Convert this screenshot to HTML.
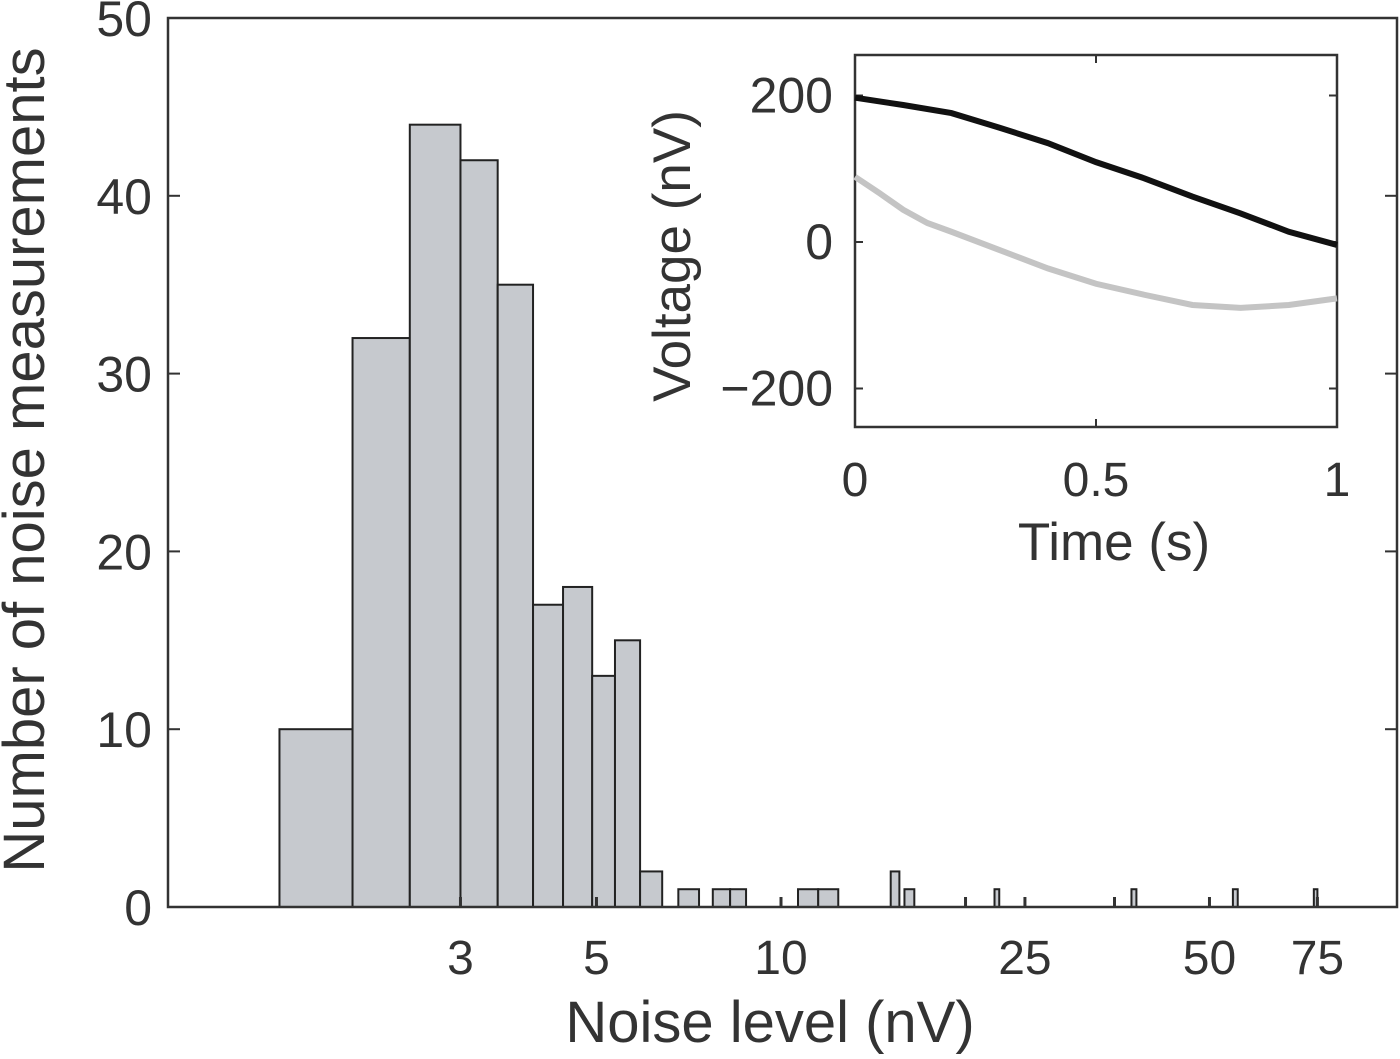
<!DOCTYPE html>
<html><head><meta charset="utf-8"><style>
html,body{margin:0;padding:0;background:#fff;}
svg text{font-family:"Liberation Sans",sans-serif;fill:#333;}
</style></head><body>
<svg id="chart" width="1400" height="1054" viewBox="0 0 1400 1054" xmlns="http://www.w3.org/2000/svg"></svg>
<script>
// Histogram data (bin edges in nV, counts)
const binLeft  = [1.52,2.0,2.48,3.0,3.45,3.94,4.41,4.92,5.36,5.89,6.8,7.74,8.26,10.66,11.5,15.1,15.9,22.3,37.3,54.6,74];
const binRight = [2.0,2.48,3.0,3.45,3.94,4.41,4.92,5.36,5.89,6.4,7.35,8.26,8.77,11.5,12.4,15.6,16.5,22.7,38,55.6,75];
const counts   = [10,32,44,42,35,17,18,13,15,2,1,1,1,1,1,2,1,1,1,1,1];
const xTicks = [3,5,10,25,50,75];
const xMinor = [20,35];
const yTicks = [0,10,20,30,40,50];
// Inset data
const tBlack = [0,0.1,0.2,0.3,0.4,0.5,0.6,0.7,0.8,0.9,1.0];
const vBlack = [197,187,176,156,135,109,87,62,39,14,-4];
const tGray  = [0,0.05,0.1,0.15,0.2,0.3,0.4,0.5,0.6,0.7,0.8,0.9,1.0];
const vGray  = [89,67,44,26,14,-11,-36,-57,-72,-86,-90,-86,-77];
const insetYTicks = [200,0,-200];
const insetYLabels = ["200","0","\u2212200"];
const insetXTicks = [0,0.5,1];
const insetXLabels = ["0","0.5","1"];

const NS="http://www.w3.org/2000/svg";
const svg=document.getElementById('chart');
function mk(tag,attrs,parent){const e=document.createElementNS(NS,tag);for(const k in attrs)e.setAttribute(k,attrs[k]);(parent||svg).appendChild(e);return e;}

const L=168,R=1397,T=18,B=907;
const xs=v=>781+(Math.log10(v)-1)*613;
const ys=c=>B-c*(B-T)/50;

binLeft.forEach((l,i)=>{
  const r=mk('rect',{x:xs(l),y:ys(counts[i]),width:xs(binRight[i])-xs(l),height:B-ys(counts[i]),fill:'#c6c9ce',stroke:'#222','stroke-width':2});
  
  
});
const fr=mk('rect',{x:L,y:T,width:R-L,height:B-T,fill:'none',stroke:'#333','stroke-width':2.5});


yTicks.forEach(v=>{
  mk('line',{x1:L,x2:L+12,y1:ys(v),y2:ys(v),stroke:'#333','stroke-width':2});
  mk('line',{x1:R-12,x2:R,y1:ys(v),y2:ys(v),stroke:'#333','stroke-width':2});
  const t=mk('text',{x:L-16,y:ys(v)+18,'text-anchor':'end','font-size':50});
  t.textContent=v;
  
  
});
xTicks.concat(xMinor).forEach(v=>{
  mk('line',{x1:xs(v),x2:xs(v),y1:B,y2:B-10,stroke:'#333','stroke-width':3});
});
xTicks.forEach(v=>{
  const t=mk('text',{x:xs(v),y:974,'text-anchor':'middle','font-size':48});
  t.textContent=v;
  
  
});
const xl=mk('text',{x:770,y:1042,'text-anchor':'middle','font-size':58});
xl.textContent='Noise level (nV)';


const yl=mk('text',{x:0,y:0,'text-anchor':'middle','font-size':58,transform:'translate(44,460) rotate(-90)'});
yl.textContent='Number of noise measurements';



// inset
const iL=855,iR=1337,iT=55,iB=427;
const ix=t=>iL+t*(iR-iL);
const iy=v=>242-v*0.7325;
const ibg=mk('rect',{x:iL,y:iT,width:iR-iL,height:iB-iT,fill:'#fff',stroke:'#333','stroke-width':2.5});


insetYTicks.forEach((v,i)=>{
  mk('line',{x1:iL,x2:iL+8,y1:iy(v),y2:iy(v),stroke:'#333','stroke-width':2});
  mk('line',{x1:iR-8,x2:iR,y1:iy(v),y2:iy(v),stroke:'#333','stroke-width':2});
  const t=mk('text',{x:iL-22,y:iy(v)+17,'text-anchor':'end','font-size':50});
  t.textContent=insetYLabels[i];
  
  
});
insetXTicks.forEach((v,i)=>{
  mk('line',{x1:ix(v),x2:ix(v),y1:iB,y2:iB-8,stroke:'#333','stroke-width':2});
  mk('line',{x1:ix(v),x2:ix(v),y1:iT,y2:iT+8,stroke:'#333','stroke-width':2});
  const t=mk('text',{x:ix(v),y:496,'text-anchor':'middle','font-size':48});
  t.textContent=insetXLabels[i];
  
  
});
const gp=mk('polyline',{points:tGray.map((t,i)=>ix(t)+','+iy(vGray[i])).join(' '),fill:'none',stroke:'#c4c4c4','stroke-width':6});


const bp=mk('polyline',{points:tBlack.map((t,i)=>ix(t)+','+iy(vBlack[i])).join(' '),fill:'none',stroke:'#111','stroke-width':6});


const ixl=mk('text',{x:1114,y:560,'text-anchor':'middle','font-size':53});
ixl.textContent='Time (s)';


const iyl=mk('text',{x:0,y:0,'text-anchor':'middle','font-size':53,transform:'translate(690,256) rotate(-90)'});
iyl.textContent='Voltage (nV)';


</script>
</body></html>
